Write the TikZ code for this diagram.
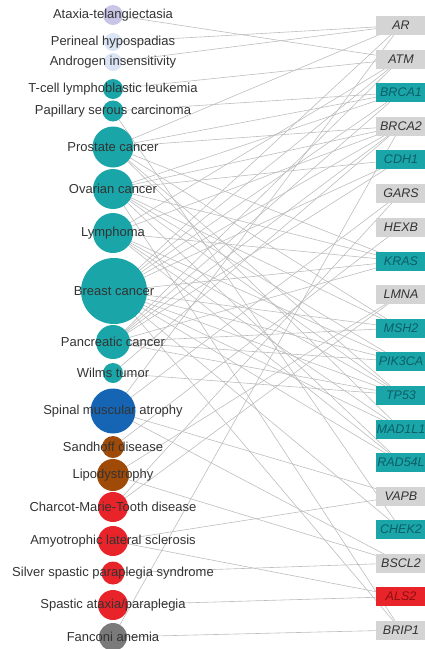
\documentclass[tikz,border=0pt]{standalone}
\usepackage{fontspec}
\setmainfont{Liberation Sans}
\usepackage{xcolor}
\usepackage{tikz}
\usetikzlibrary{backgrounds}
\definecolor{disteal}{HTML}{1AA5A8}
\definecolor{disblue}{HTML}{1565B4}
\definecolor{disbrown}{HTML}{A04A08}
\definecolor{disred}{HTML}{E8242A}
\definecolor{disgrey}{HTML}{7A7A7A}
\definecolor{dislav}{HTML}{C9C5E6}
\definecolor{dispale}{HTML}{DCE5F5}
\definecolor{genegrey}{HTML}{D4D4D4}
\definecolor{tealtext}{HTML}{0D5E66}
\definecolor{redtext}{HTML}{8E0E10}
\definecolor{labtext}{HTML}{333333}
\definecolor{linkgrey}{HTML}{BDBDBD}

\begin{document}
\begin{tikzpicture}[x=1pt, y=-1pt,
  dot/.style={circle, inner sep=0pt, draw=none, minimum size=#1},
  lab/.style={font=\fontsize{13}{15}\selectfont, text=labtext},
  gene/.style={rectangle, inner sep=0pt, minimum width=50pt,
    minimum height=19pt, fill=genegrey, text=labtext,
    font=\fontsize{12.5}{14}\selectfont\itshape},
  tealgene/.style={gene, fill=disteal, text=tealtext},
  redgene/.style={gene, fill=disred, text=redtext},
  link/.style={draw=linkgrey, line width=0.6pt}]
  \useasboundingbox (0,0) rectangle (424,649);
  % diseases
  \node[dot=20pt, fill=dislav, label={[lab]center:Ataxia-telangiectasia}] (ataxia) at (113,15) {};
  \node[dot=18pt, fill=dispale, label={[lab]center:Perineal hypospadias}] (hypo) at (113,42) {};
  \node[dot=18pt, fill=dispale, label={[lab]center:Androgen insensitivity}] (androgen) at (113,62) {};
  \node[dot=20pt, fill=disteal, label={[lab]center:T-cell lymphoblastic leukemia}] (tcell) at (113,89) {};
  \node[dot=21pt, fill=disteal, label={[lab]center:Papillary serous carcinoma}] (papillary) at (113,111) {};
  \node[dot=41pt, fill=disteal, label={[lab]center:Prostate cancer}] (prostate) at (113,147) {};
  \node[dot=40pt, fill=disteal, label={[lab]center:Ovarian cancer}] (ovarian) at (113,189) {};
  \node[dot=40pt, fill=disteal, label={[lab]center:Lymphoma}] (lymphoma) at (113,233) {};
  \node[dot=66pt, fill=disteal, label={[lab]center:Breast cancer}] (breast) at (114,291) {};
  \node[dot=34pt, fill=disteal, label={[lab]center:Pancreatic cancer}] (pancreatic) at (113,342) {};
  \node[dot=20pt, fill=disteal, label={[lab]center:Wilms tumor}] (wilms) at (113,373) {};
  \node[dot=45pt, fill=disblue, label={[lab]center:Spinal muscular atrophy}] (sma) at (113,411) {};
  \node[dot=22pt, fill=disbrown, label={[lab]center:Sandhoff disease}] (sandhoff) at (113,447) {};
  \node[dot=32pt, fill=disbrown, label={[lab]center:Lipodystrophy}] (lipo) at (113,475) {};
  \node[dot=30pt, fill=disred, label={[lab]center:Charcot-Marie-Tooth disease}] (cmt) at (113,507) {};
  \node[dot=30pt, fill=disred, label={[lab]center:Amyotrophic lateral sclerosis}] (als) at (113,541) {};
  \node[dot=23pt, fill=disred, label={[lab]center:Silver spastic paraplegia syndrome}] (silver) at (113,573) {};
  \node[dot=30pt, fill=disred, label={[lab]center:Spastic ataxia/paraplegia}] (spastic) at (113,605) {};
  \node[dot=28pt, fill=disgrey, label={[lab]center:Fanconi anemia}] (fanconi) at (113,637) {};
  % genes
  \node[gene] (ar) at (401,25.5) {AR};
  \node[gene] (atm) at (401,59) {ATM};
  \node[tealgene] (brcaone) at (401,92.5) {BRCA1};
  \node[gene] (brcatwo) at (401,126) {BRCA2};
  \node[tealgene] (cdh) at (401,159.5) {CDH1};
  \node[gene] (gars) at (401,193) {GARS};
  \node[gene] (hexb) at (401,227) {HEXB};
  \node[tealgene] (kras) at (401,261) {KRAS};
  \node[gene] (lmna) at (401,294.5) {LMNA};
  \node[tealgene] (msh) at (401,328) {MSH2};
  \node[tealgene] (pik) at (401,361.5) {PIK3CA};
  \node[tealgene] (tp) at (401,395) {TP53};
  \node[tealgene] (mad) at (401,429) {MAD1L1};
  \node[tealgene] (rad) at (401,462.5) {RAD54L};
  \node[gene] (vapb) at (401,496) {VAPB};
  \node[tealgene] (chek) at (401,529.5) {CHEK2};
  \node[gene] (bscl) at (401,563) {BSCL2};
  \node[redgene] (alstwo) at (401,596.5) {ALS2};
  \node[gene] (brip) at (401,630) {BRIP1};
  % links
  \begin{scope}[on background layer]
    \draw[link] (ataxia.center) -- (atm.center);
    \draw[link] (hypo.center) -- (ar.center);
    \draw[link] (androgen.center) -- (ar.center);
    \draw[link] (tcell.center) -- (atm.center);
    \draw[link] (papillary.center) -- (brcaone.center) (papillary.center) -- (chek.center);
    \draw[link] (prostate.center) -- (ar.center) (prostate.center) -- (brcaone.center)
      (prostate.center) -- (brcatwo.center) (prostate.center) -- (kras.center)
      (prostate.center) -- (msh.center) (prostate.center) -- (tp.center)
      (prostate.center) -- (mad.center);
    \draw[link] (ovarian.center) -- (brcaone.center) (ovarian.center) -- (brcatwo.center)
      (ovarian.center) -- (cdh.center) (ovarian.center) -- (kras.center)
      (ovarian.center) -- (msh.center) (ovarian.center) -- (pik.center)
      (ovarian.center) -- (tp.center) (ovarian.center) -- (rad.center)
      (ovarian.center) -- (brip.center);
    \draw[link] (lymphoma.center) -- (atm.center) (lymphoma.center) -- (brcatwo.center)
      (lymphoma.center) -- (kras.center) (lymphoma.center) -- (pik.center)
      (lymphoma.center) -- (tp.center) (lymphoma.center) -- (mad.center)
      (lymphoma.center) -- (rad.center);
    \draw[link] (breast.center) -- (ar.center) (breast.center) -- (atm.center)
      (breast.center) -- (brcaone.center) (breast.center) -- (brcatwo.center)
      (breast.center) -- (cdh.center) (breast.center) -- (kras.center)
      (breast.center) -- (msh.center) (breast.center) -- (pik.center)
      (breast.center) -- (tp.center) (breast.center) -- (mad.center)
      (breast.center) -- (rad.center) (breast.center) -- (chek.center)
      (breast.center) -- (brip.center);
    \draw[link] (pancreatic.center) -- (atm.center) (pancreatic.center) -- (brcaone.center)
      (pancreatic.center) -- (brcatwo.center) (pancreatic.center) -- (cdh.center)
      (pancreatic.center) -- (kras.center) (pancreatic.center) -- (msh.center)
      (pancreatic.center) -- (pik.center) (pancreatic.center) -- (tp.center);
    \draw[link] (wilms.center) -- (brcatwo.center) (wilms.center) -- (tp.center);
    \draw[link] (sma.center) -- (ar.center) (sma.center) -- (gars.center)
      (sma.center) -- (vapb.center) (sma.center) -- (bscl.center);
    \draw[link] (sandhoff.center) -- (hexb.center);
    \draw[link] (lipo.center) -- (lmna.center) (lipo.center) -- (bscl.center);
    \draw[link] (cmt.center) -- (gars.center) (cmt.center) -- (lmna.center);
    \draw[link] (als.center) -- (vapb.center) (als.center) -- (alstwo.center);
    \draw[link] (silver.center) -- (bscl.center);
    \draw[link] (spastic.center) -- (alstwo.center);
    \draw[link] (fanconi.center) -- (brcatwo.center) (fanconi.center) -- (brip.center);
  \end{scope}
\end{tikzpicture}
\end{document}
